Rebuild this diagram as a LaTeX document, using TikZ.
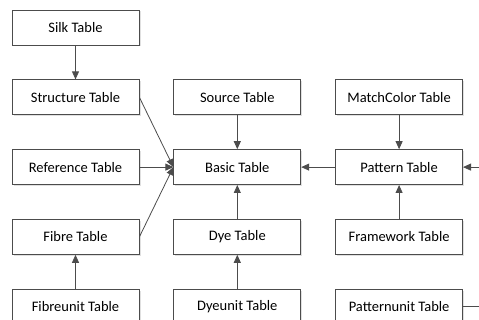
\documentclass[tikz,border=0pt]{standalone}
\usepackage{fontspec}
\setmainfont{Carlito}
\usetikzlibrary{positioning,arrows.meta,shadows}

\begin{document}
\begin{tikzpicture}[x=1pt,y=1pt,
    node distance=34pt,
    tbl/.style={draw=black!70, line width=0.8pt, fill=white,
        minimum width=127pt, minimum height=35pt, inner sep=0pt,
        font=\fontsize{14.5}{17}\selectfont,
        drop shadow={shadow xshift=1.5pt, shadow yshift=-1.5pt, fill=black!20, opacity=0.6}},
    link/.style={draw=black!70, line width=0.8pt, -{Triangle[length=8pt,width=7pt]}}]
    \useasboundingbox (0,0) rectangle (479,-320);
        \node[tbl] (silk) at (75.5,-27.5) {Silk Table};
        \node[tbl, below=of silk] (structure) {Structure Table};
        \node[tbl, below=of structure] (reference) {Reference Table};
        \node[tbl, below=of reference] (fibre) {Fibre Table};
        \node[tbl, below=of fibre] (fibreunit) {Fibreunit Table};
        \node[tbl, right=of reference] (basic) {Basic Table};
        \node[tbl, above=of basic] (source) {Source Table};
        \node[tbl, below=of basic] (dye) {Dye Table};
        \node[tbl, below=of dye] (dyeunit) {Dyeunit Table};
        \node[tbl, right=of basic] (pattern) {Pattern Table};
        \node[tbl, above=of pattern] (matchcolor) {MatchColor Table};
        \node[tbl, below=of pattern] (framework) {Framework Table};
        \node[tbl, below=of framework] (patternunit) {Patternunit Table};
        \coordinate (loop) at ([xshift=40pt]patternunit.east);
        % links into the basic table
        \draw[link] (silk) -- (structure);
        \draw[link] (structure.east) -- (basic.west);
        \draw[link] (reference) -- (basic);
        \draw[link] (fibre.east) -- (basic.west);
        \draw[link] (fibreunit) -- (fibre);
        \draw[link] (source) -- (basic);
        \draw[link] (dye) -- (basic);
        \draw[link] (dyeunit) -- (dye);
        \draw[link] (pattern) -- (basic);
        \draw[link] (matchcolor) -- (pattern);
        \draw[link] (framework) -- (pattern);
        \draw[link] (patternunit.east) -- (loop) |- (pattern.east);
\end{tikzpicture}
\end{document}
